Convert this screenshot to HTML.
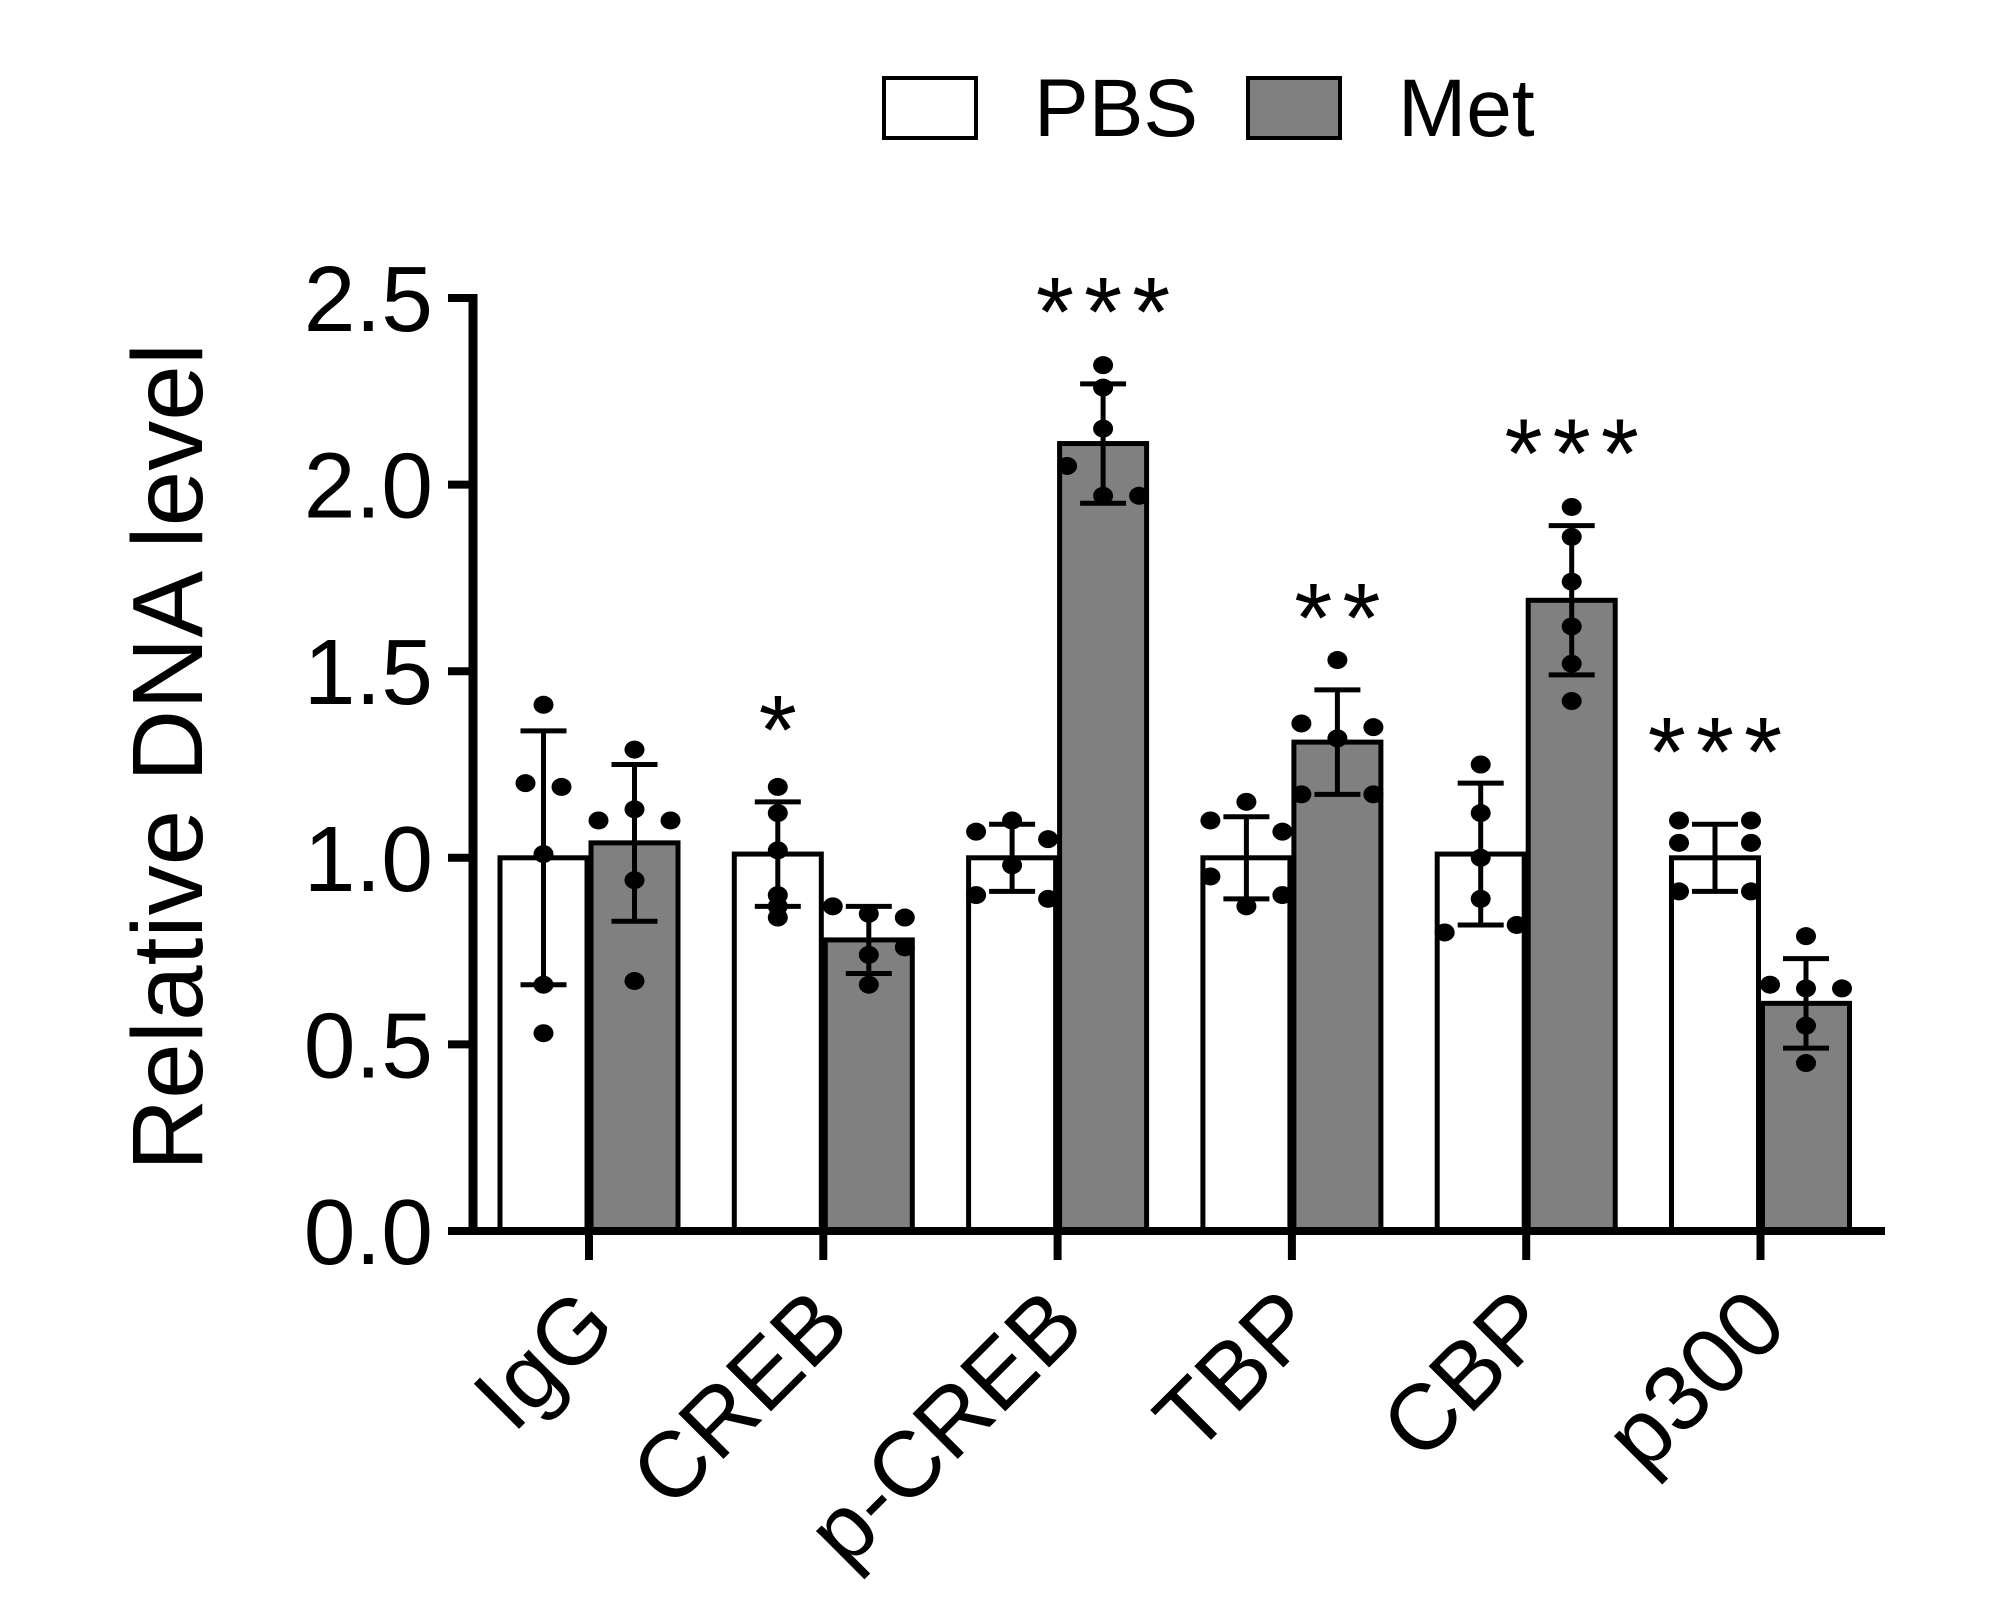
<!DOCTYPE html>
<html><head><meta charset="utf-8"><style>
html,body{margin:0;padding:0;background:#fff;}
svg{display:block;font-family:"Liberation Sans",Arial,sans-serif;}
</style></head><body>
<svg id="chart" width="2015" height="1611" viewBox="0 0 2015 1611">
<g>
<rect x="884" y="78" width="92" height="60" fill="#fff" stroke="#000" stroke-width="4"/>
<text x="1034" y="136" font-size="82">PBS</text>
<rect x="1248" y="78" width="92" height="60" fill="#808080" stroke="#000" stroke-width="4"/>
<text x="1398" y="136" font-size="82">Met</text>
</g>
<text transform="translate(202,757) rotate(-90)" text-anchor="middle" font-size="100">Relative DNA level</text>
<g id="plot"></g>
</svg>
<script>
const categories = ["IgG","CREB","p-CREB","TBP","CBP","p300"];
const pbsMean = [1.00,1.01,1.00,1.00,1.01,1.00];
const pbsErr  = [0.34,0.14,0.09,0.11,0.19,0.09];
const metMean = [1.04,0.78,2.11,1.31,1.69,0.61];
const metErr  = [0.21,0.09,0.16,0.14,0.20,0.12];
const pbsDots = [
 [1.41,1.20,1.19,1.01,0.66,0.53],
 [1.19,1.12,1.02,0.90,0.87,0.84],
 [1.10,1.07,1.05,0.98,0.90,0.89],
 [1.15,1.10,1.07,0.95,0.90,0.87],
 [1.25,1.12,1.00,0.89,0.82,0.80],
 [1.10,1.10,1.04,1.04,0.91,0.91]];
const metDots = [
 [1.29,1.13,1.10,1.10,0.94,0.67],
 [0.87,0.85,0.84,0.76,0.74,0.66],
 [2.32,2.26,2.15,2.05,1.97,1.97],
 [1.53,1.36,1.35,1.32,1.17,1.17],
 [1.94,1.86,1.74,1.62,1.52,1.42],
 [0.79,0.66,0.65,0.65,0.55,0.45]];
const pbsJitter = [[0,-1,1,0,0,0],[0,0,0,0,0,0],[0,-1,1,0,-1,1],[0,-1,1,-1,1,0],[0,0,0,0,1,-1],[-1,1,-1,1,-1,1]];
const metJitter = [[0,0,-1,1,0,0],[-1,0,1,1,0,0],[0,0,0,-1,1,0],[0,-1,1,0,-1,1],[0,0,0,0,0,0],[0,-1,1,0,0,0]];
const sigLabels = [["",""],["*",""],["","***"],["","**"],["","***"],["***",""]];
const yTicks = [0,0.5,1.0,1.5,2.0,2.5];
const yTickLabels = ["0.0","0.5","1.0","1.5","2.0","2.5"];

const NS="http://www.w3.org/2000/svg";
const plot=document.getElementById('plot');
const X0=473, Y0=1231, UNIT=373.2, G0=589, GS=234.3, BW=91;
function yScale(v){return Y0 - v*UNIT;}
function xScale(i){return G0 + i*GS;}
function mk(tag,attrs){const e=document.createElementNS(NS,tag);for(const k in attrs)e.setAttribute(k,attrs[k]);plot.appendChild(e);return e;}

for(let i=0;i<categories.length;i++){
  const cx=xScale(i);
  const groups=[[pbsMean,pbsErr,pbsDots,pbsJitter,'#fff',cx-BW,'pbs',0],[metMean,metErr,metDots,metJitter,'#808080',cx,'met',1]];
  for(const g of groups){
    const [mean,err,dots,jit,fill,left,nm,si]=g;
    const top=yScale(mean[i]);
    const b=mk('rect',{x:left+2,y:top,width:BW-4,height:Y0-top,fill:fill,stroke:'#000','stroke-width':5});
    
    
    const mx=left+BW/2;
    const jw=(i===0&&si===0)?18:36;
    dots[i].forEach((v,k)=>{
      const d=mk('ellipse',{cx:mx+jit[i][k]*jw,cy:yScale(v),rx:10,ry:9,fill:'#000'});
      
      
    });
    const hi=yScale(mean[i]+err[i]), lo=yScale(mean[i]-err[i]);
    const e1=mk('line',{x1:mx,x2:mx,y1:hi,y2:lo,stroke:'#000','stroke-width':5});
    
    
    mk('line',{x1:mx-23,x2:mx+23,y1:hi,y2:hi,stroke:'#000','stroke-width':5});
    mk('line',{x1:mx-23,x2:mx+23,y1:lo,y2:lo,stroke:'#000','stroke-width':5});
    const s=sigLabels[i][si];
    if(s){
      const t=mk('text',{x:mx+5,y:hi-38,'text-anchor':'middle','font-size':98,'letter-spacing':10});
      t.textContent=s;
      
      
    }
  }
  const tk=mk('line',{x1:cx,x2:cx,y1:Y0,y2:Y0+29,stroke:'#000','stroke-width':8});
  
  
  const lb=mk('text',{transform:`translate(${cx+30},${Y0+98}) rotate(-45)`,'text-anchor':'end','font-size':93});
  lb.textContent=categories[i];
  
  
}
const ya=mk('line',{x1:X0,x2:X0,y1:yScale(2.5)-4,y2:Y0+4,stroke:'#000','stroke-width':9});


const xa=mk('line',{x1:449,x2:1885,y1:Y0,y2:Y0,stroke:'#000','stroke-width':8});


yTicks.forEach((v,k)=>{
  const y=yScale(v);
  const t=mk('line',{x1:X0-25,x2:X0,y1:y,y2:y,stroke:'#000','stroke-width':8});
  
  
  const l=mk('text',{x:433,y:y+33,'text-anchor':'end','font-size':93});
  l.textContent=yTickLabels[k];
  
  
});
</script>
</body></html>
